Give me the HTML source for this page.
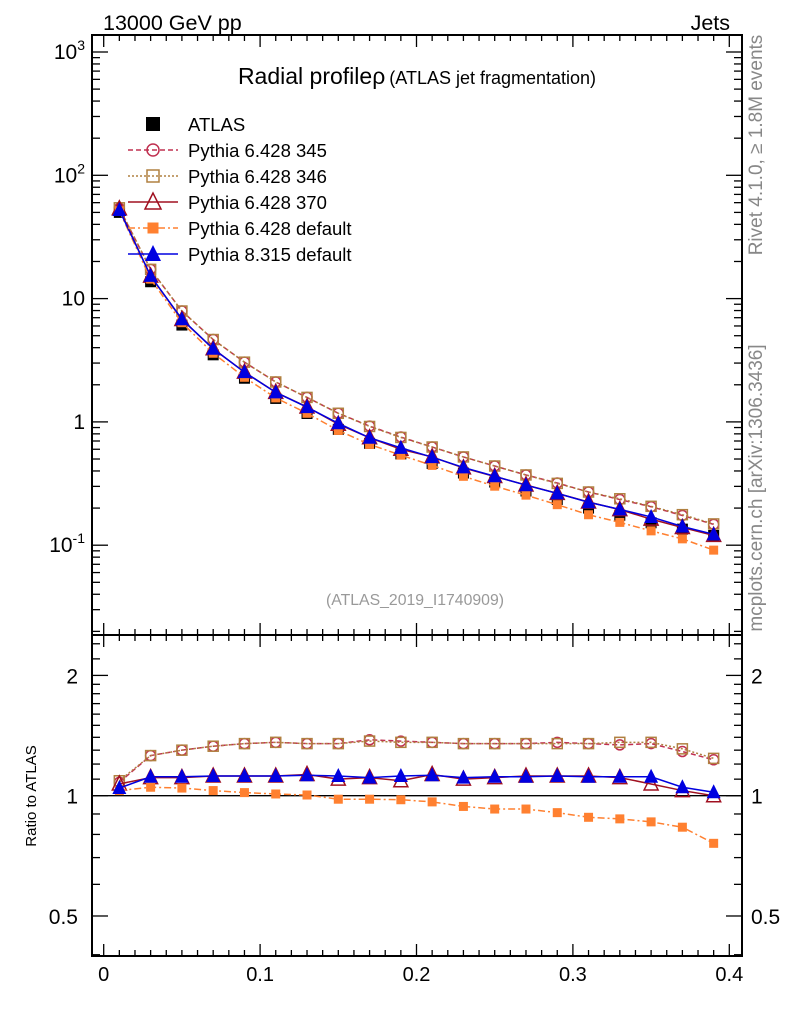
<!DOCTYPE html>
<html><head><meta charset="utf-8"><style>
html,body{margin:0;padding:0;background:#fff;}
svg{display:block;font-family:"Liberation Sans",sans-serif;}
</style></head><body>
<svg id="c" width="786" height="1024" viewBox="0 0 786 1024" xmlns="http://www.w3.org/2000/svg">
<text x="103" y="30" font-size="21.5">13000 GeV pp</text>
<text x="730" y="30" font-size="21.5" text-anchor="end">Jets</text>
<text x="417" y="84" font-size="23" text-anchor="middle">Radial profile<tspan>ρ</tspan><tspan font-size="18" dx="4">(ATLAS jet fragmentation)</tspan></text>
<text x="415" y="605" font-size="15.8" fill="#999" text-anchor="middle">(ATLAS_2019_I1740909)</text>
<text transform="translate(762,145) rotate(-90)" font-size="19" fill="#888" text-anchor="middle">Rivet 4.1.0, ≥ 1.8M events</text>
<text transform="translate(762,488) rotate(-90)" font-size="19" fill="#888" text-anchor="middle">mcplots.cern.ch [arXiv:1306.3436]</text>
<text transform="translate(36,796) rotate(-90)" font-size="15" text-anchor="middle">Ratio to ATLAS</text>
<g id="axes"></g>
<g id="series"></g>
<g id="legend"></g>
</svg>
<script>
const xCenters=[0.01,0.03,0.05,0.07,0.09,0.11,0.13,0.15,0.17,0.19,0.21,0.23,0.25,0.27,0.29,0.31,0.33,0.35,0.37,0.39];
const atlasValues=[50,13.7,6.1,3.5,2.26,1.55,1.17,0.87,0.67,0.55,0.46,0.385,0.325,0.275,0.235,0.2,0.175,0.152,0.135,0.12];
const ratio345=[1.08,1.26,1.30,1.33,1.35,1.36,1.35,1.35,1.38,1.37,1.36,1.35,1.35,1.35,1.36,1.35,1.34,1.35,1.29,1.23];
const ratio346=[1.09,1.26,1.30,1.33,1.35,1.36,1.35,1.35,1.37,1.36,1.36,1.35,1.35,1.35,1.35,1.35,1.36,1.36,1.31,1.24];
const ratio370=[1.07,1.11,1.11,1.12,1.12,1.12,1.13,1.10,1.11,1.09,1.13,1.10,1.11,1.12,1.12,1.12,1.11,1.07,1.03,1.00];
const ratioDef6=[1.03,1.05,1.045,1.03,1.018,1.01,1.004,0.98,0.98,0.977,0.965,0.94,0.926,0.926,0.907,0.883,0.875,0.86,0.834,0.76];
const ratioPy8=[1.045,1.115,1.115,1.12,1.12,1.12,1.125,1.12,1.11,1.12,1.125,1.11,1.115,1.115,1.12,1.115,1.115,1.115,1.05,1.02];
const xTicks=[0,0.1,0.2,0.3,0.4];
const mainYTicks=[0.1,1,10,100,1000];
const ratioYTicks=[0.5,1,2];

const NS="http://www.w3.org/2000/svg";
const L=92,R=742,T=35,D=635,B=956;
const X=v=>103.7+v*1564;
const Y=v=>52+(3-Math.log10(v))*123.3;
const YR=v=>795.7-Math.log10(v)*399.6;
function mk(tag,at,parent){const e=document.createElementNS(NS,tag);for(const k in at)e.setAttribute(k,at[k]);parent.appendChild(e);return e;}
const ax=document.getElementById('axes');
let f1=mk('rect',{x:L,y:T,width:R-L,height:D-T,fill:'none',stroke:'#000','stroke-width':2},ax);


let f2=mk('rect',{x:L,y:D,width:R-L,height:B-D,fill:'none',stroke:'#000','stroke-width':2},ax);


for(let i=0;i<=40;i++){const v=i/100;const x=X(v);const len=(i%10==0)?12:6;
 [[T,1],[D,-1],[D,1],[B,-1]].forEach(([y0,s])=>{const t=mk('line',{x1:x,x2:x,y1:y0,y2:y0+s*len,stroke:'#000','stroke-width':1.3},ax);
 
 });}
xTicks.forEach(v=>{const t=mk('text',{x:X(v),y:981,'font-size':20,'text-anchor':'middle'},ax);t.textContent=String(v);
 
 });
for(let e=-2;e<=3;e++){for(let m=1;m<=9;m++){const v=m*Math.pow(10,e);const y=Y(v);if(y<T||y>D)continue;const len=m==1?16:8;
 [[L,1],[R,-1]].forEach(([x0,s])=>{const t=mk('line',{x1:x0,x2:x0+s*len,y1:y,y2:y,stroke:'#000','stroke-width':1.3},ax);
 
 });}}
mainYTicks.forEach(v=>{const y=Y(v);const t=mk('text',{x:85,y:y+7,'font-size':21,'text-anchor':'end'},ax);
 const e=Math.round(Math.log10(v));
 if(e==0)t.textContent='1';else if(e==1)t.textContent='10';else{t.textContent='10';const s=mk('tspan',{dy:-9,'font-size':14},t);s.textContent=String(e);}
 
 });
[0.4,0.5,0.6,0.7,0.8,0.9,1,1.1,1.2,1.3,1.4,1.5,1.6,1.7,1.8,1.9,2].forEach(v=>{const y=YR(v);if(y<T||y>B)return;const len=(v==0.5||v==1||v==2)?16:8;
 [[L,1],[R,-1]].forEach(([x0,s])=>{const t=mk('line',{x1:x0,x2:x0+s*len,y1:y,y2:y,stroke:'#000','stroke-width':1.3},ax);
 
 });});
[2.2,2.4].forEach(v=>{const y=YR(v);[[L,1],[R,-1]].forEach(([x0,s])=>{const t=mk('line',{x1:x0,x2:x0+s*8,y1:y,y2:y,stroke:'#000','stroke-width':1.3},ax);
 
 });});
ratioYTicks.forEach(v=>{const y=YR(v);
 const t=mk('text',{x:78,y:y+8,'font-size':21,'text-anchor':'end'},ax);t.textContent=String(v);
 
 
 const t2=mk('text',{x:751,y:y+8,'font-size':21},ax);t2.textContent=String(v);
 
 });
let one=mk('line',{x1:L,x2:R,y1:YR(1),y2:YR(1),stroke:'#000','stroke-width':1.3},ax);



const sg=document.getElementById('series');
function marker(g,type,x,y,col,s){
 if(type=='sqf'){mk('rect',{x:x-s,y:y-s,width:2*s,height:2*s,fill:col},g);}
 else if(type=='sqo'){mk('rect',{x:x-s+1,y:y-s+1,width:2*s-2,height:2*s-2,fill:'none',stroke:col,'stroke-width':1.5},g);}
 else if(type=='circ'){mk('circle',{cx:x,cy:y,r:s-1,fill:'none',stroke:col,'stroke-width':1.5},g);}
 else if(type=='trio'){mk('polygon',{points:`${x},${y-s-1} ${x-s},${y+s-1} ${x+s},${y+s-1}`,fill:'none',stroke:col,'stroke-width':1.5},g);}
 else if(type=='trif'){mk('polygon',{points:`${x},${y-s-1} ${x-s},${y+s-1} ${x+s},${y+s-1}`,fill:col},g);}
}
const series=[
 {name:'pythia6-345',label:'Pythia 6.428 345',r:ratio345,col:'#c03050',dash:'5,3',m:'circ',s:6},
 {name:'pythia6-346',label:'Pythia 6.428 346',r:ratio346,col:'#b08040',dash:'2,2',m:'sqo',s:6},
 {name:'pythia6-370',label:'Pythia 6.428 370',r:ratio370,col:'#a01020',dash:'',m:'trio',s:7},
 {name:'pythia6-default',label:'Pythia 6.428 default',r:ratioDef6,col:'#ff8030',dash:'7,3,2,3',m:'sqf',s:4.5},
 {name:'pythia8-default',label:'Pythia 8.315 default',r:ratioPy8,col:'#0000e0',dash:'',m:'trif',s:7},
];
{const g=mk('g',{},sg);
 xCenters.forEach((xv,i)=>marker(g,'sqf',X(xv),Y(atlasValues[i]),'#000',5.5));}
series.forEach(sr=>{
 const g=mk('g',{},sg);
 
 
 const mp=xCenters.map((xv,i)=>[X(xv),Y(atlasValues[i]*sr.r[i])]);
 const rp=xCenters.map((xv,i)=>[X(xv),YR(sr.r[i])]);
 [mp,rp].forEach(pts=>{
  const a={points:pts.map(p=>p.join(',')).join(' '),fill:'none',stroke:sr.col,'stroke-width':1.5};
  if(sr.dash)a['stroke-dasharray']=sr.dash;mk('polyline',a,g);
  pts.forEach(p=>marker(g,sr.m,p[0],p[1],sr.col,sr.s));});
});
const lg=document.getElementById('legend');
const rows=[{label:'ATLAS',col:'#000',m:'sqf',s:6,dash:null}].concat(series);
rows.forEach((r,i)=>{const y=124+i*26;
 const g=mk('g',{},lg);
 
 
 if(r.dash!==null){const a={x1:128,x2:178,y1:y,y2:y,stroke:r.col,'stroke-width':1.5};if(r.dash)a['stroke-dasharray']=r.dash;mk('line',a,g);}
 marker(g,r.m,153,y,r.col,r.s+1);
 const t=mk('text',{x:188,y:y+7,'font-size':18.5},g);t.textContent=r.label;});
</script>
</body></html>
